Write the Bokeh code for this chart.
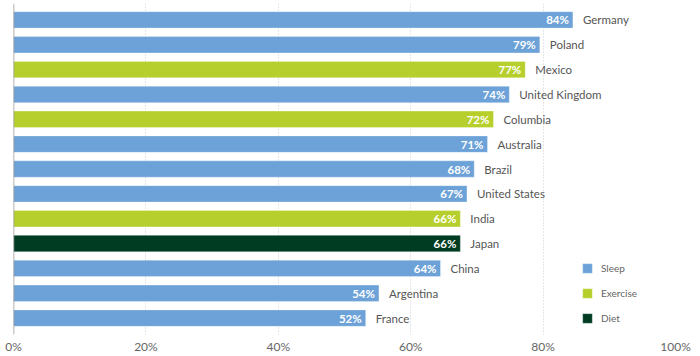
from bokeh.plotting import figure
from bokeh.models import FactorRange, Span, ColumnDataSource, Legend, LegendItem, FixedTicker, CustomJSTickFormatter
from bokeh.core.properties import value
from bokeh.embed import file_html
from bokeh.resources import INLINE

countries = ["Germany", "Poland", "Mexico", "United Kingdom", "Columbia", "Australia",
             "Brazil", "United States", "India", "Japan", "China", "Argentina", "France"]
values = [84.5, 79.5, 77.3, 74.9, 72.5, 71.6, 69.6, 68.5, 67.5, 67.5, 64.5, 55.2, 53.2]
labels = ["84%", "79%", "77%", "74%", "72%", "71%", "68%", "67%", "66%", "66%", "64%", "54%", "52%"]
groups = ["Sleep", "Sleep", "Exercise", "Sleep", "Exercise", "Sleep", "Sleep", "Sleep",
          "Exercise", "Diet", "Sleep", "Sleep", "Sleep"]
group_names = ["Sleep", "Exercise", "Diet"]
group_colors = {"Sleep": "#6CA2D7", "Exercise": "#B7CF2D", "Diet": "#003C21"}
x_ticks = [0, 20, 40, 60, 80, 100]

FONT = "Lato"

p = figure(width=700, height=356, frame_width=662, frame_height=331,
           output_backend="svg", toolbar_location=None,
           y_range=FactorRange(factors=list(reversed(countries)), range_padding=0.16,
                               range_padding_units="absolute"),
           x_range=(0, 100), min_border_left=13, min_border_right=25, min_border_top=3,
           min_border_bottom=0)
p.title.visible = False
p.outline_line_color = None
p.yaxis.visible = False
p.ygrid.grid_line_color = None

p.xaxis.ticker = FixedTicker(ticks=x_ticks)
p.xaxis.formatter = CustomJSTickFormatter(code="return tick + '%';")
p.xaxis.axis_line_color = None
p.xaxis.major_tick_line_color = None
p.xaxis.minor_tick_line_color = None
p.xaxis.major_tick_out = 0
p.xaxis.major_tick_in = 0
p.xaxis.minor_tick_out = 0
p.xaxis.major_label_standoff = 4
p.xaxis.major_label_text_font = FONT
p.xaxis.major_label_text_font_size = "12px"
p.xaxis.major_label_text_color = "#666666"

p.xgrid.ticker = FixedTicker(ticks=x_ticks[1:])
p.xgrid.grid_line_color = "#cccccc"
p.xgrid.grid_line_dash = "1 2"
p.xgrid.grid_line_width = 1

items = []
for g in group_names:
    idx = [i for i, gg in enumerate(groups) if gg == g]
    src = ColumnDataSource(dict(y=[countries[i] for i in idx], x=[values[i] for i in idx]))
    r = p.hbar(y="y", right="x", left=0, height=0.66, source=src,
               fill_color=group_colors[g], line_color="white", line_alpha=0.3, line_width=1)
    items.append(LegendItem(label=g, renderers=[r]))

p.add_layout(Span(location=0, dimension="height", line_color="#999999", line_width=1.5))

src_all = ColumnDataSource(dict(y=countries, x=values, lab=labels))
p.text(x="x", y="y", text="lab", source=src_all, x_offset=-4, text_align="right",
       text_baseline="middle", text_color="white", text_font=value(FONT),
       text_font_style="bold", text_font_size="11.5px")
p.text(x="x", y="y", text="y", source=src_all, x_offset=10, text_align="left",
       text_baseline="middle", text_color="#555555", text_font=value(FONT),
       text_font_size="11.5px")

legend = Legend(items=items, location=(568, 10), orientation="vertical",
                glyph_width=12, glyph_height=12, label_height=12, spacing=13,
                label_standoff=8, padding=0, margin=0, border_line_color=None,
                background_fill_alpha=0, label_text_font=FONT, label_text_font_size="10px",
                label_text_color="#666666")
p.add_layout(legend)

open("out.html", "w").write(file_html(p, INLINE))
